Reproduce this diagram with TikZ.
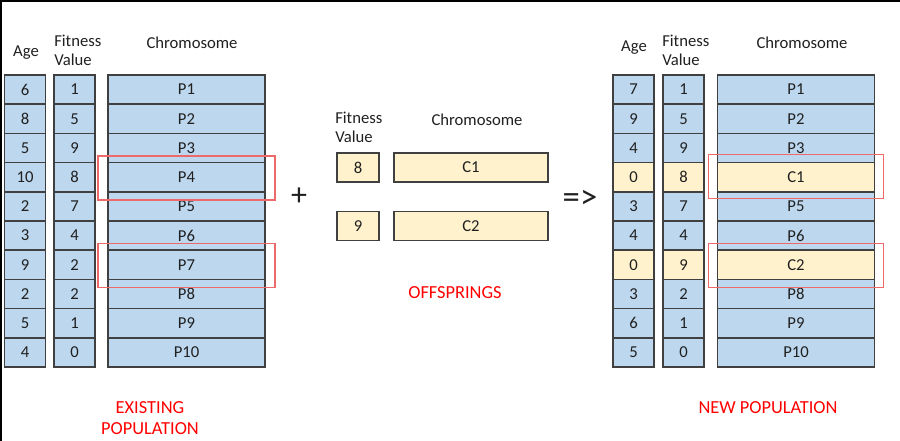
\documentclass[tikz,border=0pt]{standalone}
\usepackage{fontspec}
\setmainfont{Carlito}
\usetikzlibrary{positioning}
\definecolor{cellblue}{HTML}{BDD7EE}
\definecolor{cellyellow}{HTML}{FFF2CC}
\definecolor{celledge}{HTML}{404040}
\definecolor{inktext}{HTML}{202020}
\definecolor{pickred}{HTML}{EE6A6A}
\tikzstyle{cell} = [draw=celledge, line width=1.1pt, minimum height=21.9pt, inner sep=0pt, text=inktext, font=\fontsize{12.5}{14}\selectfont]
\tikzstyle{narrow} = [cell, minimum width=30.75pt]
\tikzstyle{wide} = [cell, minimum width=117.75pt]
\tikzstyle{pick} = [draw=pickred, line width=1.3pt, minimum width=132.75pt, minimum height=33pt]
\tikzstyle{head} = [inner sep=0pt, align=left, text=inktext, font=\fontsize{12.5}{14.5}\selectfont]
\tikzstyle{caption} = [inner sep=0pt, align=center, text=red, font=\fontsize{13.8}{15.75}\selectfont]

\begin{document}
\begin{tikzpicture}[x=0.75pt, y=-0.75pt]

\useasboundingbox (0,0) rectangle (900,441);
\draw[line width=1.5pt] (0.9,441) -- (0.9,0.9) -- (900,0.9);

% existing population
\node[head] (lagehead) at (26,53) {Age};
\node[head, anchor=west] (lfithead) at (54,50) {Fitness\\Value};
\node[head] (lchrhead) at (192,43) {Chromosome};
\foreach \a/\f/\c [count=\i] in {6/1/P1, 8/5/P2, 5/9/P3, 10/8/P4, 2/7/P5, 3/4/P6, 9/2/P7, 2/2/P8, 5/1/P9, 4/0/P10}
{
  \node[narrow, fill=cellblue] (lage\i) at (25,{75+29.2*(\i-0.5)}) {\a};
  \node[narrow, fill=cellblue] (lfit\i) at (74.5,{75+29.2*(\i-0.5)}) {\f};
  \node[wide, fill=cellblue] (lchr\i) at (186.5,{75+29.2*(\i-0.5)}) {\c};
}
\node[pick] (lpick4) at ([yshift=-0.6pt]lchr4) {};
\node[pick] (lpick7) at ([yshift=-0.6pt]lchr7) {};
\node[caption] (oldpop) at (150,418) {EXISTING\\POPULATION};

\node[inktext, font=\fontsize{24}{28}\selectfont] (plus) at (299,197) {+};

% offsprings
\node[head, anchor=west] (ofithead) at (335,127) {Fitness\\Value};
\node[head] (ochrhead) at (477,120) {Chromosome};
\node[cell, fill=cellyellow, minimum width=31.5pt, minimum height=21.75pt] (ofit1) at (358,167.5) {8};
\node[cell, fill=cellyellow, minimum width=115.5pt, minimum height=21.75pt] (ochr1) at (471,167.5) {C1};
\node[cell, fill=cellyellow, minimum width=31.5pt, minimum height=21.75pt] (ofit2) at (358,226) {9};
\node[cell, fill=cellyellow, minimum width=115.5pt, minimum height=21.75pt] (ochr2) at (471,226) {C2};
\node[caption] (offspr) at (455,293) {OFFSPRINGS};

\node[inktext, font=\fontsize{26}{30}\selectfont] (gives) at (580,199) {=>};

% new population
\node[head] (ragehead) at (634,48) {Age};
\node[head, anchor=west] (rfithead) at (662,50) {Fitness\\Value};
\node[head] (rchrhead) at (802,43) {Chromosome};
\foreach \a/\f/\c/\col [count=\i] in {7/1/P1/cellblue, 9/5/P2/cellblue, 4/9/P3/cellblue, 0/8/C1/cellyellow, 3/7/P5/cellblue, 4/4/P6/cellblue, 0/9/C2/cellyellow, 3/2/P8/cellblue, 6/1/P9/cellblue, 5/0/P10/cellblue}
{
  \node[narrow, fill=\col] (rage\i) at (633.5,{75+29.2*(\i-0.5)}) {\a};
  \node[narrow, fill=\col] (rfit\i) at (683.5,{75+29.2*(\i-0.5)}) {\f};
  \node[wide, fill=\col] (rchr\i) at (796,{75+29.2*(\i-0.5)}) {\c};
}
\node[pick, minimum width=131.25pt] (rpick4) at ([yshift=0.5pt]rchr4) {};
\node[pick, minimum width=131.25pt] (rpick7) at ([yshift=-0.6pt]rchr7) {};
\node[caption] (newpop) at (768,408) {NEW POPULATION};

\end{tikzpicture}
\end{document}
